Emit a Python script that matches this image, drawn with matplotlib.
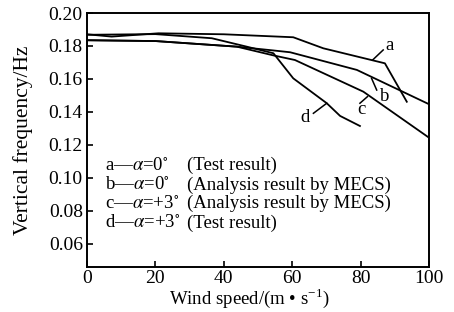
import matplotlib
matplotlib.use("Agg")
import matplotlib.pyplot as plt

plt.rcParams['font.family'] = ['Liberation Serif', 'DejaVu Serif']
plt.rcParams['mathtext.fontset'] = 'stix'

# curve data
a_x = [0, 7.2, 20.9, 40, 60.3, 69.1, 87.1, 93.5]
a_y = [0.1871, 0.1857, 0.1877, 0.1871, 0.1853, 0.1786, 0.1695, 0.1462]

b_x = [0, 20, 43.8, 54.5, 59.4, 78.9, 100]
b_y = [0.1835, 0.1830, 0.1796, 0.1773, 0.1762, 0.1655, 0.1447]

c_x = [0, 20, 43.8, 54.5, 60.8, 80.8, 100]
c_y = [0.1835, 0.1830, 0.1796, 0.1743, 0.1715, 0.1523, 0.1244]

d_x = [0, 20, 36.5, 46.7, 54.5, 60.3, 70.1, 74, 79.8]
d_y = [0.1868, 0.1872, 0.1847, 0.1796, 0.1756, 0.1604, 0.1453, 0.1376, 0.1315]

series = [(a_x, a_y), (b_x, b_y), (c_x, c_y), (d_x, d_y)]

# label pointers: (start, end, text position)
labels = ['a', 'b', 'c', 'd']
ptr_x = [(83.5, 86.6), (83.2, 84.7), (82.0, 79.8), (70.1, 66.2)]
ptr_y = [(0.1715, 0.1776), (0.1604, 0.1533), (0.1493, 0.1453), (0.1453, 0.1392)]
lab_x = [88.6, 87.1, 80.1, 63.7]
lab_y = [0.1806, 0.1493, 0.1416, 0.1368]

legend_left = [r'a—$\alpha$=0$^{\circ}$', r'b—$\alpha$=0$^{\circ}$',
               r'c—$\alpha$=+3$^{\circ}$', r'd—$\alpha$=+3$^{\circ}$']
legend_right = ['(Test result)', '(Analysis result by MECS)',
                '(Analysis result by MECS)', '(Test result)']
legend_y = [0.1075, 0.0958, 0.0848, 0.0727]

fig = plt.figure(figsize=(4.54, 3.12), dpi=100)
ax = fig.add_axes([0.1916, 0.1442, 0.7534, 0.8141])

for xs, ys in series:
    ax.plot(xs, ys, color='black', lw=1.3)

for i, lab in enumerate(labels):
    ax.plot(ptr_x[i], ptr_y[i], color='black', lw=1.1)
    ax.text(lab_x[i], lab_y[i], lab, fontsize=13.5, ha='center', va='center')

for i in range(4):
    ax.text(5.3, legend_y[i], legend_left[i], fontsize=13.5, va='center')
    ax.text(29.2, legend_y[i], legend_right[i], fontsize=13.5, va='center')

ax.set_xlim(0, 100)
ax.set_ylim(0.046, 0.20)
ax.set_xticks([0, 20, 40, 60, 80, 100])
ax.set_yticks([0.06, 0.08, 0.10, 0.12, 0.14, 0.16, 0.18, 0.20])
ax.set_yticklabels(['0.06', '0.08', '0.10', '0.12', '0.14', '0.16', '0.18', '0.20'])
ax.tick_params(direction='in', length=4, width=1.2, labelsize=14, pad=3)
ax.tick_params(axis='x', pad=2)
for s in ax.spines.values():
    s.set_linewidth(1.4)

ax.set_xlabel(r'Wind speed/(m • s$^{\mathregular{-1}}$)', fontsize=13.5,
              labelpad=0, x=0.475)
ax.set_ylabel('Vertical frequency/Hz', fontsize=15.5, labelpad=11)

fig.savefig('out.png', dpi=100)
